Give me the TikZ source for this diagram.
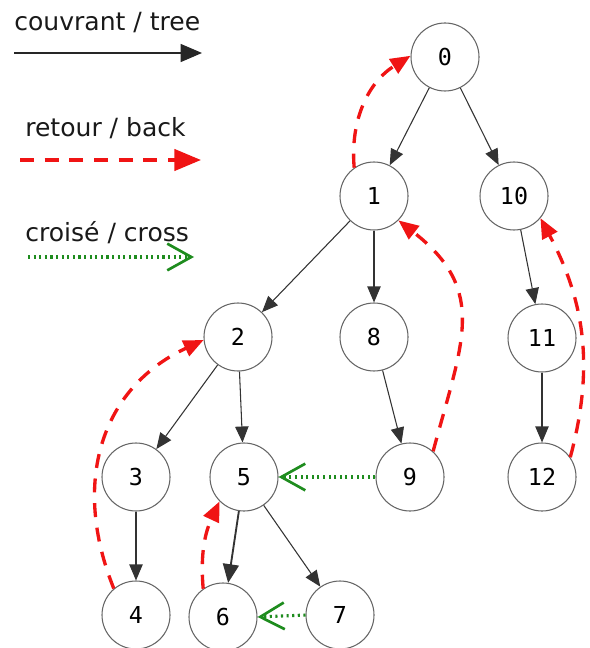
\documentclass[tikz,border=0pt]{standalone}
\usepackage{fontspec}
\setmainfont{DejaVu Sans}
\newfontfamily\numfont{DejaVu Sans Mono}
\usetikzlibrary{arrows.meta}
\definecolor{backred}{RGB}{240,20,20}
\definecolor{crossgreen}{RGB}{30,140,30}
\begin{document}
\begin{tikzpicture}[x=0.75pt,y=-0.75pt,
  vtx/.style={circle,draw=black!60,line width=0.8pt,minimum size=51pt,inner sep=0pt,font=\numfont\fontsize{17.5}{19}\selectfont},
  lbl/.style={anchor=base west,inner sep=0pt,font=\fontsize{18.8}{21}\selectfont,text=black!90},
  treeedge/.style={draw=black!80,line width=0.8pt,-{Triangle[length=12pt,width=10pt]}},
  backedge/.style={draw=backred,line width=2.5pt,dash pattern=on 10.5pt off 8pt,-{Triangle[length=15pt,width=12.5pt]}},
  crossedge/.style={draw=crossgreen,line width=2.3pt,dash pattern=on 1.6pt off 2.6pt,-{Straight Barb[length=18pt,width=20pt,line width=2pt]}}
]
\useasboundingbox (0,0) rectangle (589,648);

% legend
\node[lbl] (tl) at (14,31) {couvrant / tree};
\coordinate (ta) at (14,53); \coordinate (tb) at (202,53);
\draw[draw=black!85,line width=1pt,-{Triangle[length=16pt,width=13.5pt]}] (ta) -- (tb);
\node[lbl] (bl) at (25,137) {retour / back};
\coordinate (ba) at (20,160); \coordinate (bb) at (201,160);
\draw[backedge,-{Triangle[length=20pt,width=16pt]}] (ba) -- (bb);
\node[lbl] (cl) at (25,242) {croisé / cross};
\coordinate (ca) at (28,257); \coordinate (cb) at (194,257);
\draw[crossedge] (ca) -- (cb);

% vertices
\node[vtx] (n0) at (445,57) {0};
\node[vtx] (n1) at (374,196) {1};
\node[vtx] (n10) at (514,196) {10};
\node[vtx] (n2) at (238,337) {2};
\node[vtx] (n8) at (374,337) {8};
\node[vtx] (n11) at (542,338) {11};
\node[vtx] (n3) at (136,477) {3};
\node[vtx] (n5) at (244,477) {5};
\node[vtx] (n9) at (410,477) {9};
\node[vtx] (n12) at (542,477) {12};
\node[vtx] (n4) at (136,615) {4};
\node[vtx] (n6) at (223,617) {6};
\node[vtx] (n7) at (340,615) {7};

% tree edges
\draw[treeedge] (n0) -- (n1);
\draw[treeedge] (n0) -- (n10);
\draw[treeedge] (n1) -- (n2);
\draw[treeedge] (n1) -- (n8);
\draw[treeedge] (n10) -- (n11);
\draw[treeedge] (n11) -- (n12);
\draw[treeedge] (n2) -- (n3);
\draw[treeedge] (n2) -- (n5);
\draw[treeedge] (n8) -- (n9);
\draw[treeedge] (n3) -- (n4);
\draw[treeedge,line width=1.4pt,-{Triangle[length=14pt,width=12pt]}] (n5) -- (n6);
\draw[treeedge] (n5) -- (n7);

% back edges
\draw[backedge] (n1.125) to[out=95,in=212] (n0.178);
\draw[backedge] (n9.48) to[out=75,in=-38,looseness=1.25] (n1.-45);
\draw[backedge] (n12.35) to[out=75,in=-62] (n10.-40);
\draw[backedge] (n4.130) to[out=112,in=205,looseness=1.1] (n2.185);
\draw[backedge] (n6.125) to[out=95,in=245] (n5.225);

% cross edges
\draw[crossedge] (n9.west) -- (n5.east);
\draw[crossedge] (n7.west) -- (n6.east);
\end{tikzpicture}
\end{document}
